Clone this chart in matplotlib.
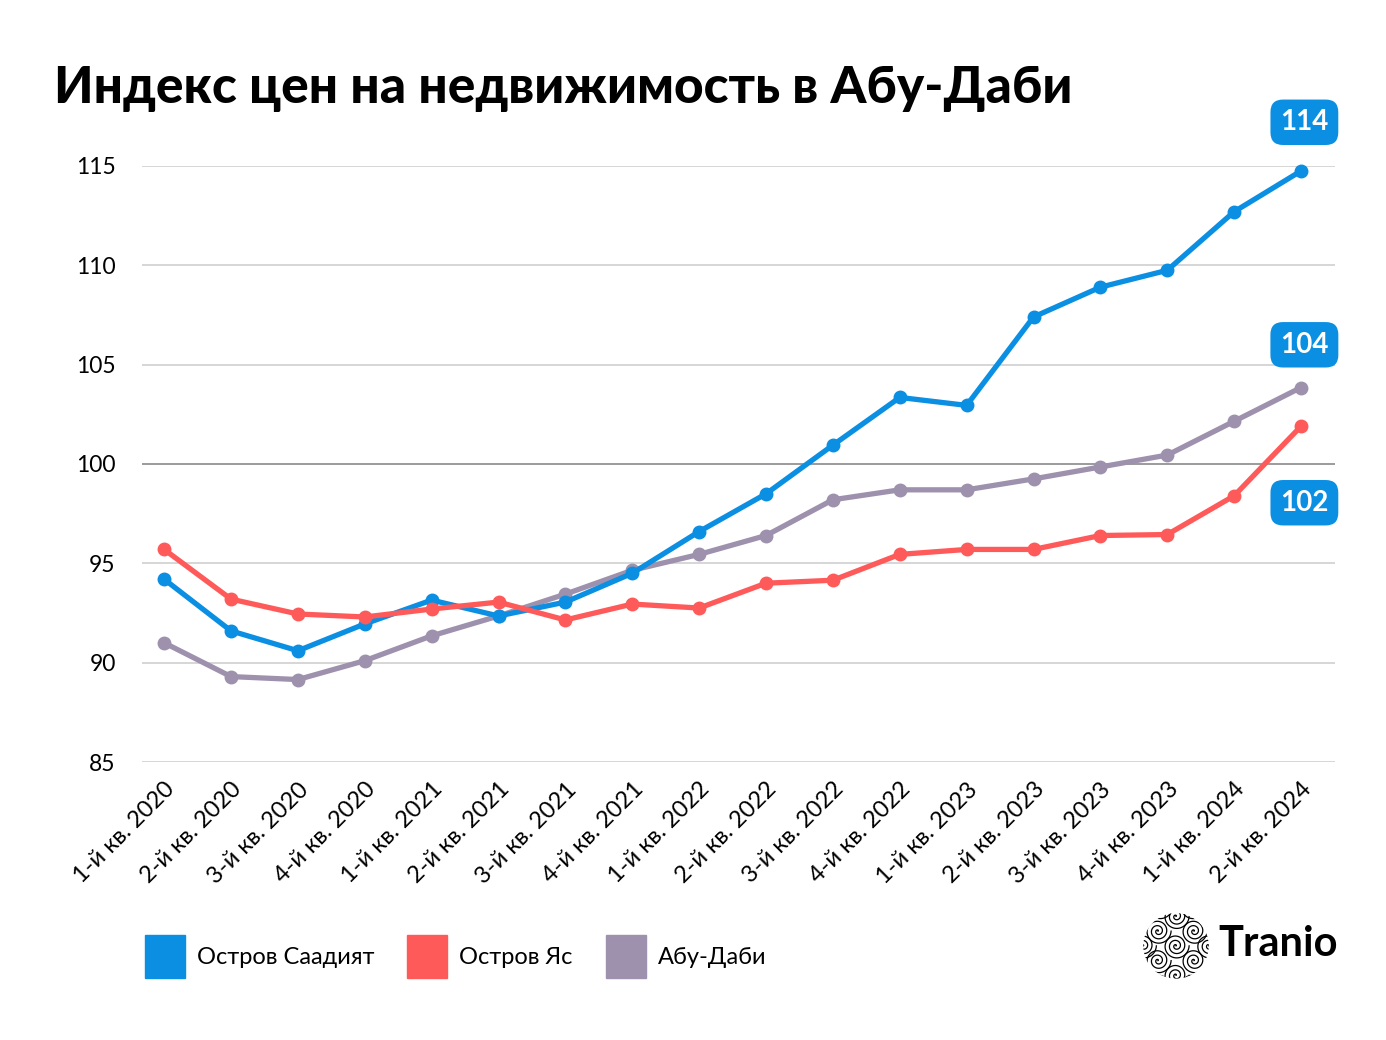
import matplotlib.pyplot as plt
import numpy as np
from matplotlib.patches import Patch, Circle

plt.rcParams['font.family'] = ['Lato', 'DejaVu Sans']

quarters = ["1-й кв. 2020", "2-й кв. 2020", "3-й кв. 2020", "4-й кв. 2020",
            "1-й кв. 2021", "2-й кв. 2021", "3-й кв. 2021", "4-й кв. 2021",
            "1-й кв. 2022", "2-й кв. 2022", "3-й кв. 2022", "4-й кв. 2022",
            "1-й кв. 2023", "2-й кв. 2023", "3-й кв. 2023", "4-й кв. 2023",
            "1-й кв. 2024", "2-й кв. 2024"]

saadiyat = [94.2, 91.6, 90.6, 91.95, 93.15, 92.35, 93.05, 94.5, 96.6, 98.5,
            100.95, 103.35, 102.95, 107.4, 108.9, 109.75, 112.7, 114.75]
yas = [95.7, 93.2, 92.45, 92.3, 92.7, 93.05, 92.15, 92.95, 92.75, 94.0,
       94.15, 95.45, 95.7, 95.7, 96.4, 96.45, 98.4, 101.9]
abudhabi = [91.0, 89.3, 89.15, 90.1, 91.35, 92.35, 93.45, 94.65, 95.45, 96.4,
            98.2, 98.7, 98.7, 99.25, 99.85, 100.45, 102.15, 103.85]

names = ["Остров Саадият", "Остров Яс", "Абу-Даби"]
colors = ["#0A8FE3", "#FF5A5A", "#9E91AD"]
badges = ["114", "102", "104"]
badge_y = [117.2, 98.05, 106.0]

fig = plt.figure(figsize=(13.86, 10.4), dpi=100)
ax = fig.add_axes([0.1025, 0.2673, 0.8608, 0.5731])
x = np.arange(len(quarters))

for y in [85, 90, 95, 105, 110, 115]:
    ax.axhline(y, color="#cfcfcf", lw=1.2, zorder=0)
ax.axhline(100, color="#8a8a8a", lw=1.2, zorder=0)

series = [saadiyat, yas, abudhabi]
for i in [2, 0, 1]:
    ax.plot(x, series[i], color=colors[i], lw=3.8, marker="o", ms=9,
            solid_capstyle="round", clip_on=False, zorder=3)

for i in range(3):
    ax.text(17.05, badge_y[i], badges[i], color="white", fontsize=20,
            fontweight="bold", ha="center", va="center", zorder=5,
            bbox=dict(boxstyle="round,pad=0.35,rounding_size=0.45",
                      fc=colors[0], ec="none"))

ax.set_xlim(-0.33, 17.51)
ax.set_ylim(85, 115)
ax.set_yticks([85, 90, 95, 100, 105, 110, 115])
ax.set_xticks(x)
ax.set_xticklabels(quarters, rotation=45, ha="right", rotation_mode="anchor")
ax.tick_params(axis="y", length=0, labelsize=16.5, pad=19)
ax.tick_params(axis="x", length=0, labelsize=17, pad=12)
for s in ax.spines.values():
    s.set_visible(False)

fig.text(0.039, 0.915, "Индекс цен на недвижимость в Абу-Даби",
         fontsize=37, fontweight="black", ha="left", va="center")

handles = [Patch(color=c) for c in colors]
fig.legend(handles, names, loc="center left", bbox_to_anchor=(0.1045, 0.08),
           ncol=3, frameon=False, fontsize=17, handlelength=1.7,
           handleheight=2.4, handletextpad=0.5, columnspacing=1.4,
           borderpad=0, borderaxespad=0)

# logo
lax = fig.add_axes([0.8245, 0.059, 0.048, 0.063])
lax.set_aspect("equal")
lax.axis("off")
lax.set_xlim(-1, 1)
lax.set_ylim(-1, 1)
clip = Circle((0, 0), 1, transform=lax.transData)
t = np.linspace(0, 6 * np.pi, 300)
for cx, cy in [(0, 0), (-0.55, 0.45), (0.55, 0.45), (-0.55, -0.45), (0.55, -0.45),
               (0, 0.9), (0, -0.9), (-1.0, 0), (1.0, 0), (-0.5, 1.2), (0.5, 1.2),
               (-0.5, -1.2), (0.5, -1.2)]:
    r = 0.4 * t / t[-1]
    ln, = lax.plot(cx + r * np.cos(t), cy + r * np.sin(t), color="black", lw=0.9)
    ln.set_clip_path(clip)
fig.text(0.879, 0.092, "Tranio", fontsize=30, fontweight="bold",
         ha="left", va="center")

fig.savefig("out.png", dpi=100, facecolor="white")
